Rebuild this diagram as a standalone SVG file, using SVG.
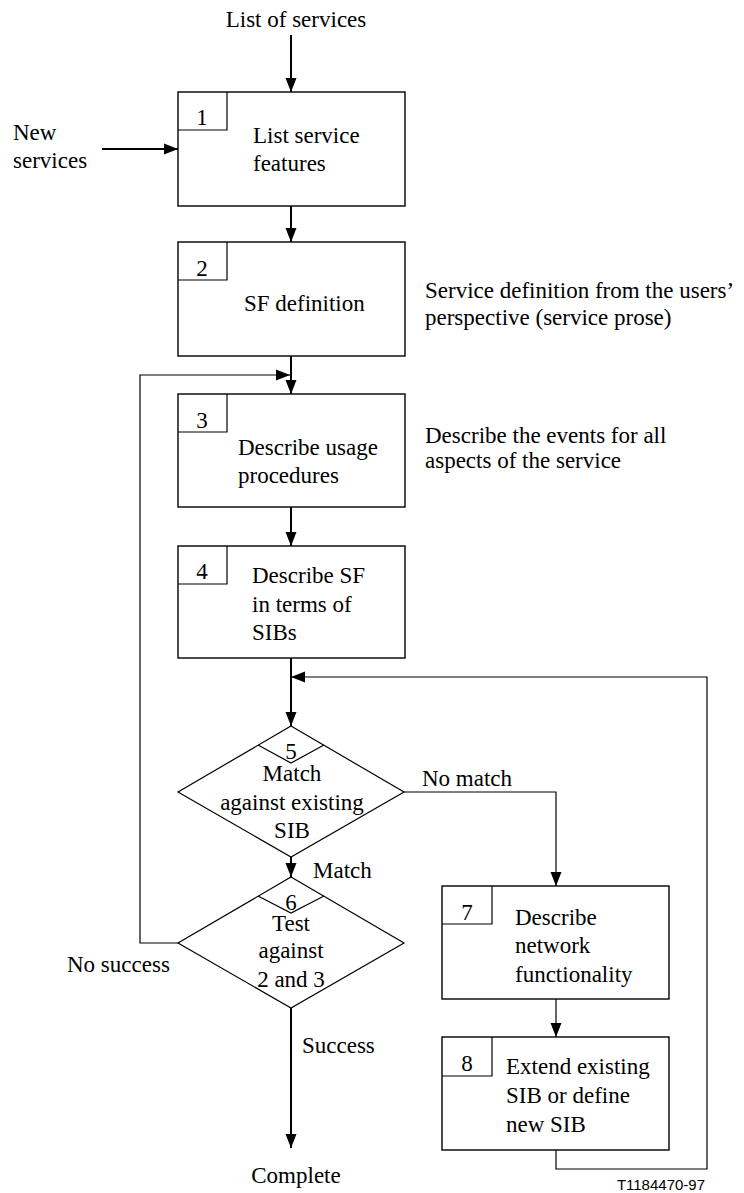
<svg xmlns="http://www.w3.org/2000/svg" width="744" height="1193" viewBox="0 0 744 1193">
<style>
.t{font-family:'Liberation Serif','Tinos','DejaVu Serif','Times New Roman',serif;font-size:23px;fill:#000}
.c{text-anchor:middle}
.box{fill:#fff;stroke:#000;stroke-width:1.4}
.thin{fill:none;stroke:#000;stroke-width:1.2}
.thick{fill:none;stroke:#000;stroke-width:2}
.lbl{font-family:'Liberation Sans',Arial,sans-serif;font-size:15px;text-anchor:end;fill:#000}
</style>
<defs>
<marker id="ah" markerUnits="userSpaceOnUse" markerWidth="14" markerHeight="14" viewBox="0 0 14 12" refX="14" refY="6" orient="auto">
<path d="M0,0.5 L14,6 L0,11.5 z" fill="#000"/>
</marker>
</defs>
<g id="connectors">
<line class="thick" x1="291" y1="35" x2="291" y2="92" marker-end="url(#ah)"/>
<line class="thick" x1="102" y1="149" x2="178" y2="149" marker-end="url(#ah)"/>
<line class="thick" x1="291" y1="206" x2="291" y2="242" marker-end="url(#ah)"/>
<line class="thick" x1="291" y1="356" x2="291" y2="394" marker-end="url(#ah)"/>
<line class="thick" x1="291" y1="507" x2="291" y2="546" marker-end="url(#ah)"/>
<line class="thick" x1="291" y1="658" x2="291" y2="726" marker-end="url(#ah)"/>
<line class="thick" x1="291" y1="857" x2="291" y2="877" marker-end="url(#ah)"/>
<line class="thick" x1="291" y1="1008" x2="291" y2="1148" marker-end="url(#ah)"/>
<polyline class="thin" points="178,943 140,943 140,375 290,375" marker-end="url(#ah)"/>
<polyline class="thin" points="556,1150 556,1169 707,1169 707,677 291,677" marker-end="url(#ah)"/>
<polyline class="thin" points="404,792 556,792 556,886" marker-end="url(#ah)"/>
<line class="thin" x1="556" y1="999" x2="556" y2="1037" marker-end="url(#ah)"/>
</g>
<g id="n1" class="t" font-family="Liberation Serif, serif">
<rect class="box" x="178" y="92" width="227" height="114"/>
<polyline class="thin" points="178,130 227,130 227,92"/>
<text class="c" x="202" y="125">1</text>
<text x="253" y="143">List service</text>
<text x="253" y="171">features</text>
</g>
<g id="n2" class="t" font-family="Liberation Serif, serif">
<rect class="box" x="178" y="242" width="227" height="114"/>
<polyline class="thin" points="178,280 227,280 227,242"/>
<text class="c" x="202" y="276">2</text>
<text x="244" y="311">SF definition</text>
</g>
<g id="n3" class="t" font-family="Liberation Serif, serif">
<rect class="box" x="178" y="394" width="227" height="113"/>
<polyline class="thin" points="178,432 227,432 227,394"/>
<text class="c" x="202" y="428">3</text>
<text x="238" y="455">Describe usage</text>
<text x="238" y="483">procedures</text>
</g>
<g id="n4" class="t" font-family="Liberation Serif, serif">
<rect class="box" x="178" y="546" width="227" height="112"/>
<polyline class="thin" points="178,584 227,584 227,546"/>
<text class="c" x="202" y="579">4</text>
<text x="252" y="583">Describe SF</text>
<text x="252" y="612">in terms of</text>
<text x="252" y="640">SIBs</text>
</g>
<g id="n5" class="t" font-family="Liberation Serif, serif">
<polygon class="thin" fill="#fff" points="291,726 404,792 291,857 178,792"/>
<polyline class="thin" points="258,745 291,763 324,745"/>
<text class="c" x="291" y="759">5</text>
<text class="c" x="292" y="781">Match</text>
<text class="c" x="292" y="810">against existing</text>
<text class="c" x="292" y="838">SIB</text>
</g>
<g id="n6" class="t" font-family="Liberation Serif, serif">
<polygon class="thin" fill="#fff" points="291,877 404,943 291,1008 178,943"/>
<polyline class="thin" points="258,896 291,913 324,896"/>
<text class="c" x="291" y="910">6</text>
<text class="c" x="291" y="931">Test</text>
<text class="c" x="291" y="958">against</text>
<text class="c" x="291" y="987">2 and 3</text>
</g>
<g id="n7" class="t" font-family="Liberation Serif, serif">
<rect class="box" x="442" y="886" width="227" height="113"/>
<polyline class="thin" points="442,924 492,924 492,886"/>
<text class="c" x="467" y="920">7</text>
<text x="515" y="925">Describe</text>
<text x="515" y="953">network</text>
<text x="515" y="982">functionality</text>
</g>
<g id="n8" class="t" font-family="Liberation Serif, serif">
<rect class="box" x="442" y="1037" width="227" height="113"/>
<polyline class="thin" points="442,1076 492,1076 492,1037"/>
<text class="c" x="467" y="1071">8</text>
<text x="506" y="1074">Extend existing</text>
<text x="506" y="1103">SIB or define</text>
<text x="506" y="1132">new SIB</text>
</g>
<g id="labels" class="t" font-family="Liberation Serif, serif">
<text class="c" x="296" y="27">List of services</text>
<text x="13" y="140">New</text>
<text x="13" y="168">services</text>
<text x="425" y="298">Service definition from the users’</text>
<text x="425" y="325">perspective (service prose)</text>
<text x="425" y="443">Describe the events for all</text>
<text x="425" y="468">aspects of the service</text>
<text x="422" y="786">No match</text>
<text x="313" y="878">Match</text>
<text x="67" y="972">No success</text>
<text x="302" y="1053">Success</text>
<text class="c" x="296" y="1183">Complete</text>
<text class="lbl" x="705" y="1190">T1184470-97</text>
</g>
</svg>
